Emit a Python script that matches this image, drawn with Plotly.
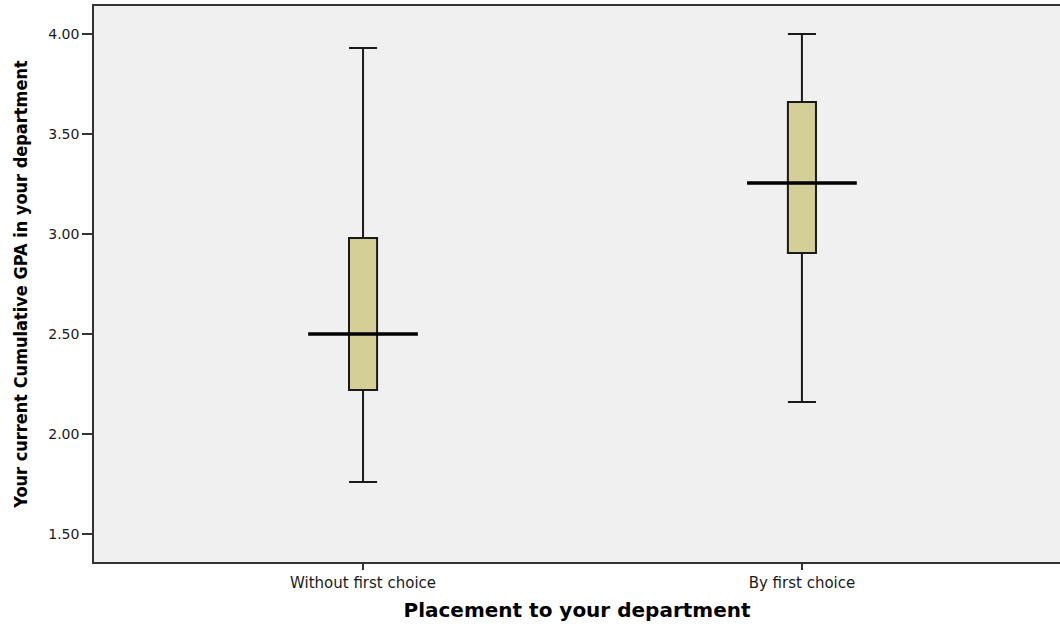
import plotly.graph_objects as go

categories = ["Without first choice", "By first choice"]
lower_whisker = [1.76, 2.16]
q1 = [2.22, 2.905]
median = [2.50, 3.255]
q3 = [2.98, 3.66]
upper_whisker = [3.93, 4.00]
y_ticks = [1.5, 2.0, 2.5, 3.0, 3.5, 4.0]

pos = list(range(len(categories)))
box_width = 0.064
median_half = 0.125

fig = go.Figure()
for i in pos:
    fig.add_trace(go.Box(
        x=[i], q1=[q1[i]], median=[median[i]], q3=[q3[i]],
        lowerfence=[lower_whisker[i]], upperfence=[upper_whisker[i]],
        width=box_width, whiskerwidth=1,
        fillcolor="#D3CF96", line=dict(color="#1a1a1a", width=2),
        boxpoints=False, showlegend=False, hoverinfo="skip",
    ))

mx, my = [], []
for i in pos:
    mx += [i - median_half, i + median_half, None]
    my += [median[i], median[i], None]
fig.add_trace(go.Scatter(x=mx, y=my, mode="lines",
                         line=dict(color="#000000", width=3.5),
                         showlegend=False, hoverinfo="skip"))

fig.update_layout(
    width=1060, height=624,
    margin=dict(l=94, r=0, t=6, b=62),
    paper_bgcolor="#ffffff", plot_bgcolor="#F0F0F0",
    font=dict(family="DejaVu Sans", color="#000000"),
)
fig.update_xaxes(
    range=[-0.613, 1.588], tickvals=pos, ticktext=categories,
    showgrid=False, zeroline=False,
    showline=True, linecolor="#333333", linewidth=1.5, mirror=True,
    ticks="outside", ticklen=6, tickcolor="#333333", tickwidth=1.5,
    tickfont=dict(family="DejaVu Sans", size=15, color="#1a1a1a"),
    title=dict(text="<b>Placement to your department</b>",
               font=dict(family="DejaVu Sans", size=20, color="#000000"),
               standoff=12),
)
fig.update_yaxes(
    range=[1.36, 4.14], tickvals=y_ticks, ticktext=[f"{v:.2f}" for v in y_ticks],
    showgrid=False, zeroline=False,
    showline=True, linecolor="#333333", linewidth=1.5, mirror=False,
    ticks="outside", ticklen=10, tickcolor="#333333", tickwidth=1.5,
    tickfont=dict(family="DejaVu Sans", size=14, color="#1a1a1a"),
    title=dict(text="<b>Your current Cumulative GPA in your department</b>",
               font=dict(family="DejaVu Sans Condensed", size=18, color="#000000"),
               standoff=16),
)

fig.write_html("out.html", config={"displayModeBar": False},
               post_script="document.body.style.margin='0';document.body.style.padding='0';")
